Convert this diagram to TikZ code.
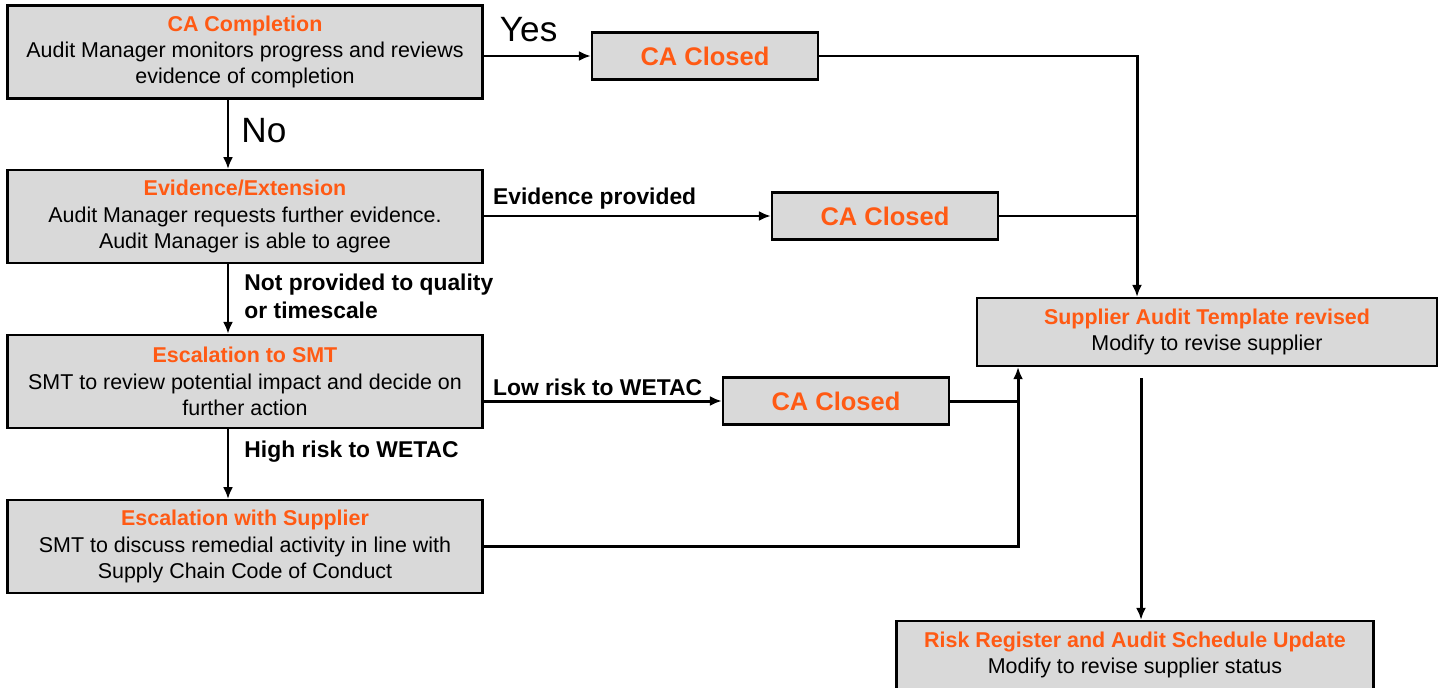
\documentclass[tikz,border=0pt]{standalone}
\usepackage{fontspec}
\setmainfont{Liberation Sans}
\usepackage{xcolor}
\usetikzlibrary{arrows.meta,positioning}
\definecolor{caorange}{RGB}{255,90,20}
\definecolor{boxgray}{RGB}{217,217,217}
\newcommand{\hd}[1]{{\bfseries\color{caorange}#1}}
\tikzset{
  arr/.style={line width=1.7pt, -{Latex[length=0.24cm,width=0.2cm]}},
  lab/.style={font=\fontsize{13}{16}\selectfont\bfseries, inner sep=0pt},
  big/.style={font=\fontsize{20}{24}\selectfont, inner sep=0pt}
}

\begin{document}
\begin{tikzpicture}[x=0.02cm, y=-0.02cm, node distance=1.39cm,
    main/.style = {draw, line width=1.3pt, fill=boxgray, minimum width=9.5cm, minimum height=1.86cm, align=center, font=\fontsize{12.2}{15}\selectfont},
    closed/.style = {draw, line width=1.3pt, fill=boxgray, minimum width=4.52cm, minimum height=0.94cm, font=\fontsize{14.5}{17}\selectfont\bfseries, text=caorange}]
  \useasboundingbox (0,0) rectangle (1440,687);

  \node[main](1) at (245,52) {\hd{CA Completion}\\Audit Manager monitors progress and reviews\\evidence of completion};
  \node[main](2)[below=of 1] {\hd{Evidence/Extension}\\Audit Manager requests further evidence.\\Audit Manager is able to agree};
  \node[main](3)[below=of 2] {\hd{Escalation to SMT}\\SMT to review potential impact and decide on\\further action};
  \node[main](4)[below=1.40cm of 3] {\hd{Escalation with Supplier}\\SMT to discuss remedial activity in line with\\Supply Chain Code of Conduct};

  \node[closed](5) at (705,56) {CA Closed};
  \node[closed](6) at (885,216) {CA Closed};
  \node[closed](7) at (836,401) {CA Closed};

  \node[main, minimum width=9.2cm, minimum height=1.36cm](8) at (1207,332) {\hd{Supplier Audit Template revised}\\Modify to revise supplier};
  \node[main, minimum width=9.54cm, minimum height=1.36cm](9) at (1135,655) {\hd{Risk Register and Audit Schedule Update}\\Modify to revise supplier status};

  \coordinate (j1) at ([xshift=-1.4cm]8.north);
  \coordinate (j2) at ([xshift=-3.78cm]8.south);

  % outcomes of each step
  \draw[arr] (1.east |- 5.west) -- node[big, above=0.26cm, pos=0.42]{Yes} (5.west);
  \draw[arr] ([xshift=-0.34cm]1.south) -- node[big, right=0.24cm, pos=0.44]{No} ([xshift=-0.34cm]2.north);
  \draw[arr] (2.east |- 6.west) -- node[lab, anchor=base west, xshift=0.16cm, yshift=0.24cm, pos=0]{Evidence provided} (6.west);
  \draw[arr] ([xshift=-0.34cm]2.south) -- node[lab, align=left, anchor=west, xshift=0.3cm, pos=0.46]{Not provided to quality\\or timescale} ([xshift=-0.34cm]3.north);
  \draw[arr] (3.east |- 7.west) -- node[lab, anchor=base west, xshift=0.16cm, yshift=0.12cm, pos=0]{Low risk to WETAC} (7.west);
  \draw[arr] ([xshift=-0.34cm]3.south) -- node[lab, anchor=base west, xshift=0.3cm, pos=0.41]{High risk to WETAC} ([xshift=-0.34cm]4.north);

  % closing into the template
  \draw[arr] (5.east) -| (j1);
  \draw[line width=1.7pt] (6.east) -- (6.east -| j1);
  \draw[line width=1.7pt] (7.east) -- (7.east -| j2);
  \draw[arr] (4.east) -| (j2);
  \draw[arr] ([xshift=-1.32cm, yshift=-0.22cm]8.south) -- ([xshift=-1.32cm]8.south |- 9.north);
\end{tikzpicture}
\end{document}
